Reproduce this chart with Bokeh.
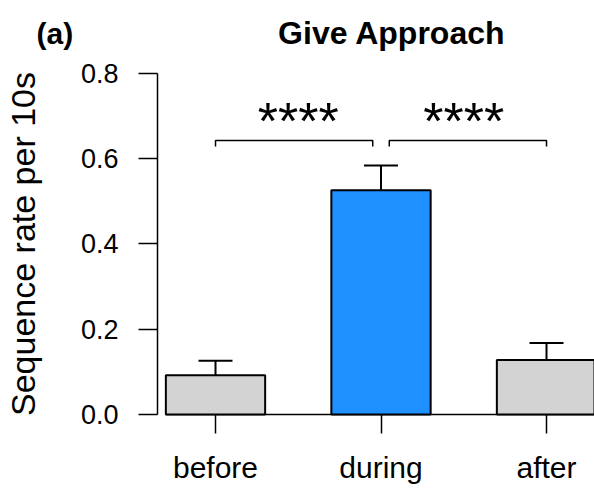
from bokeh.plotting import figure
from bokeh.models import Range1d, FixedTicker, Label, ColumnDataSource, Whisker, TeeHead
from bokeh.core.properties import value
from bokeh.embed import file_html
from bokeh.resources import INLINE

categories = ["before", "during", "after"]
means = [0.092, 0.526, 0.128]
upper = [0.126, 0.584, 0.168]
bar_colors = ["#D3D3D3", "#1E90FF", "#D3D3D3"]
y_ticks = [0.0, 0.2, 0.4, 0.6, 0.8]
y_tick_labels = ["0.0", "0.2", "0.4", "0.6", "0.8"]
comparisons = [(0, 1), (1, 2)]
sig_labels = ["****", "****"]
title_text = "Give Approach"
panel_text = "(a)"
ylabel = "Sequence rate per 10s"

FONT = "Liberation Sans"
xs = list(range(len(categories)))

# frame spans the whole canvas; axes are placed at fixed locations
X0, X1 = -1.2991, 2.2900
Y0, Y1 = -0.18534, 0.97126
AXIS_X = -0.3505

p = figure(width=594, height=493, output_backend="svg", toolbar_location=None,
           x_range=Range1d(X0, X1), y_range=Range1d(Y0, Y1),
           min_border=0, min_border_left=0, min_border_right=0,
           min_border_top=0, min_border_bottom=0)
p.title.visible = False
p.outline_line_color = None
p.grid.visible = False

src = ColumnDataSource(dict(x=xs, top=means, upper=upper, color=bar_colors))

# baseline
p.segment(x0=[xs[0] - 0.3], y0=[0], x1=[xs[-1] + 0.4], y1=[0],
          line_color="black", line_width=1.5)

p.vbar(x="x", top="top", bottom=0, width=0.6, fill_color="color",
       line_color="black", line_width=2, source=src)

w = Whisker(base="x", lower="top", upper="upper", source=src,
            line_color="black", line_width=2, lower_head=None,
            upper_head=TeeHead(size=34, line_color="black", line_width=2))
p.add_layout(w)

# significance brackets
bx, by = [], []
b_top, b_low = 0.643, 0.629
for a, b in comparisons:
    lo = a if a == 0 else a + 0.05
    hi = b - 0.05 if b != len(categories) - 1 else b
    bx.append([lo, lo, hi, hi])
    by.append([b_low, b_top, b_top, b_low])
p.multi_line(xs=bx, ys=by, line_color="black", line_width=1.5)

star_x = [(a + b) / 2 for a, b in comparisons]
p.text(x=star_x, y=[0.689, 0.689], text=sig_labels, text_align="center",
       text_baseline="alphabetic", text_font=value(FONT),
       text_font_size="52px", text_color="black")

# axes
ya = p.yaxis[0]
ya.fixed_location = AXIS_X
ya.bounds = (y_ticks[0], y_ticks[-1])
ya.ticker = FixedTicker(ticks=y_ticks)
ya.major_label_overrides = dict(zip(y_ticks, y_tick_labels))
ya.major_tick_out = 19
ya.major_tick_in = 0
ya.minor_tick_out = 0
ya.minor_tick_in = 0
ya.major_label_standoff = 20
ya.axis_line_width = 1.5
ya.major_tick_line_width = 1.5
ya.major_label_text_font = FONT
ya.major_label_text_font_size = "27px"
ya.major_label_text_color = "black"
ya.axis_label = ylabel
ya.axis_label_text_font = FONT
ya.axis_label_text_font_size = "34px"
ya.axis_label_text_font_style = "normal"
ya.axis_label_text_color = "black"
ya.axis_label_standoff = 36

xa = p.xaxis[0]
xa.fixed_location = 0
xa.ticker = FixedTicker(ticks=xs)
xa.major_label_overrides = dict(zip(xs, categories))
xa.axis_line_color = None
xa.major_tick_out = 19
xa.major_tick_in = 0
xa.minor_tick_out = 0
xa.minor_tick_in = 0
xa.major_tick_line_width = 1.5
xa.major_label_standoff = 18
xa.major_label_text_font = FONT
xa.major_label_text_font_size = "30px"
xa.major_label_text_color = "black"

p.add_layout(Label(x=1.066, y=0.894, text=title_text, text_align="center",
                   text_baseline="alphabetic", text_font=FONT,
                   text_font_size="32px", text_font_style="bold",
                   text_color="black"))
p.add_layout(Label(x=-1.0816, y=0.894, text=panel_text, text_align="left",
                   text_baseline="alphabetic", text_font=FONT,
                   text_font_size="30px", text_font_style="bold",
                   text_color="black"))

open("out.html", "w").write(file_html(p, INLINE))
